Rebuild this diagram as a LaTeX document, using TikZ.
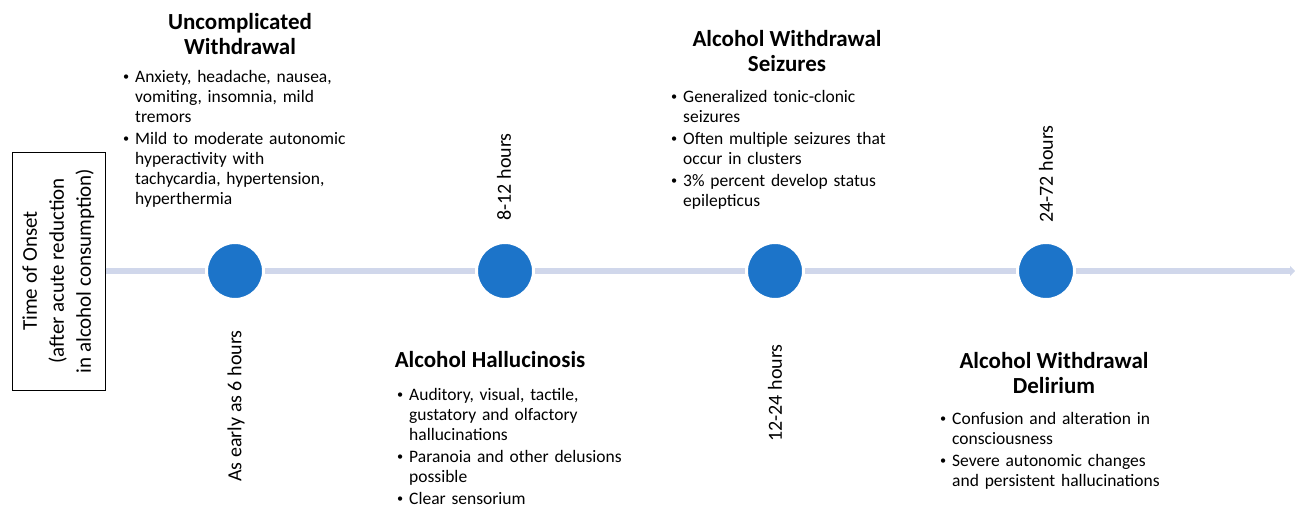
\documentclass[tikz,border=0pt]{standalone}
\usepackage{fontspec}
\setmainfont{Carlito}
\usetikzlibrary{arrows.meta,positioning}
\definecolor{dotblue}{HTML}{1C74C9}
\definecolor{lineblue}{HTML}{D0D7EB}
\newcommand{\bul}[1]{\par\noindent\makebox[12pt][l]{\raisebox{1.5pt}{\scalebox{0.7}{\textbullet}}}%
  \begin{tabular}[t]{@{}l@{}}#1\end{tabular}\par\vspace{1pt}}

\begin{document}
\begin{tikzpicture}[x=1pt,y=1pt,
  dot/.style={circle,fill=dotblue,draw=white,line width=3pt,minimum size=57pt,inner sep=0pt},
  hours/.style={rotate=90,font=\fontsize{20}{24}\selectfont},
  heading/.style={font=\fontsize{23}{25.5}\selectfont\bfseries,align=center},
  notes/.style={font=\fontsize{17.5}{20}\selectfont,text width=260pt,anchor=north west,inner sep=0pt}]
  \useasboundingbox (0,0) rectangle (1295,-506);
  \node[draw,line width=1pt,minimum width=93pt,minimum height=238pt,inner sep=0pt] (onset) at (58.5,-271)
    {\fontsize{21}{27}\selectfont\rotatebox{90}{\begin{tabular}{@{}c@{}}Time of Onset\\(after acute reduction\\in alcohol consumption)\end{tabular}}};
  \node[dot] (c1) at (235,-271) {};
  \node[dot] (c2) at (505,-271) {};
  \node[dot] (c3) at (775,-271) {};
  \node[dot] (c4) at (1046,-271) {};
  \coordinate (tip) at (1295,-271);
  \draw[lineblue,line width=6pt,-{Triangle[length=5pt,width=10pt]}] (onset) -- (c1) -- (c2) -- (c3) -- (c4) -- (tip);
  \node[hours] (t1) at (236,-406) {As early as 6 hours};
  \node[hours] (t2) at (504,-177) {8-12 hours};
  \node[hours] (t3) at (775,-393) {12-24 hours};
  \node[hours] (t4) at (1046,-174) {24-72 hours};
  \node[heading] (h1) at (240,-34) {Uncomplicated\\Withdrawal};
  \node[notes] (n1) at (123,-62) {\bul{Anxiety, headache, nausea,\\vomiting, insomnia, mild\\tremors}
    \bul{Mild to moderate autonomic\\hyperactivity with\\tachycardia, hypertension,\\hyperthermia}};
  \node[heading] (h2) at (490,-360) {Alcohol Hallucinosis};
  \node[notes] (n2) at (397,-380) {\bul{Auditory, visual, tactile,\\gustatory and olfactory\\hallucinations}
    \bul{Paranoia and other delusions\\possible}
    \bul{Clear sensorium}};
  \node[heading] (h3) at (787,-51) {Alcohol Withdrawal\\Seizures};
  \node[notes] (n3) at (671,-82) {\bul{Generalized tonic-clonic\\seizures}
    \bul{Often multiple seizures that\\occur in clusters}
    \bul{3\% percent develop status\\epilepticus}};
  \node[heading] (h4) at (1054,-373) {Alcohol Withdrawal\\Delirium};
  \node[notes] (n4) at (940,-404) {\bul{Confusion and alteration in\\consciousness}
    \bul{Severe autonomic changes\\and persistent hallucinations}};
\end{tikzpicture}
\end{document}
